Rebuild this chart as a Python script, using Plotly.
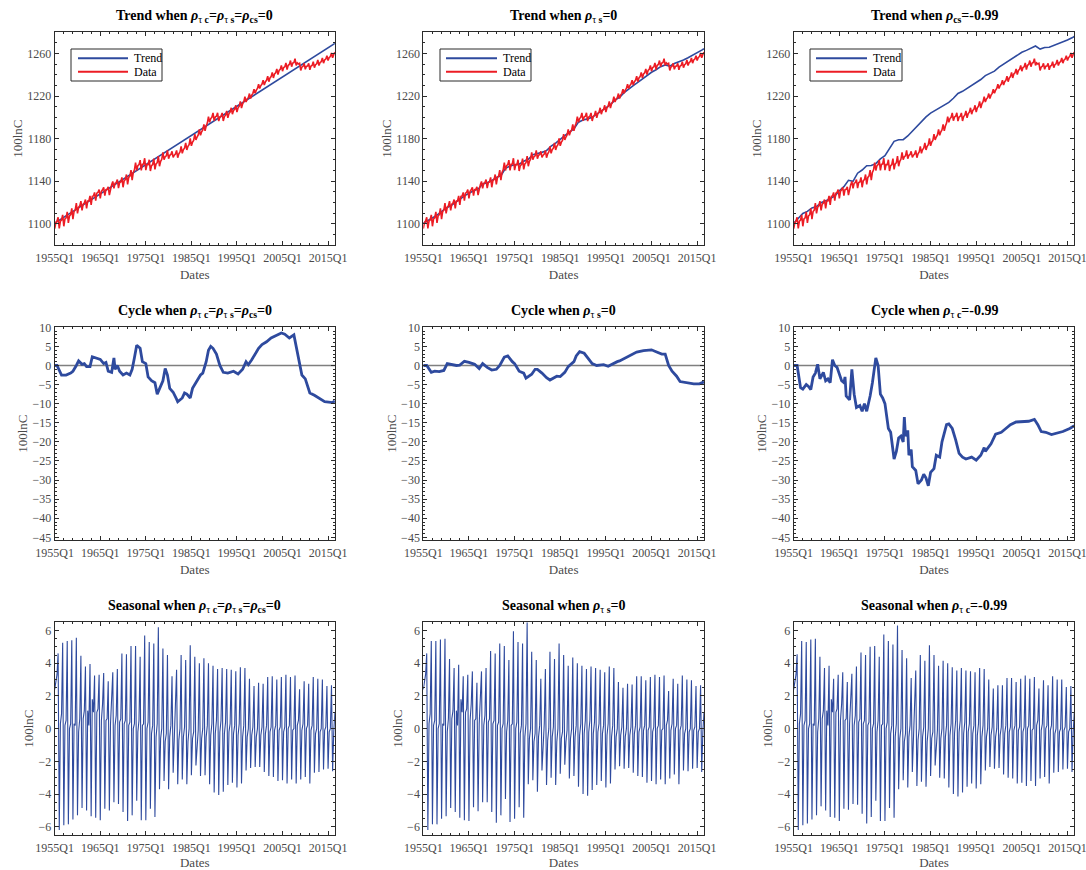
import plotly.graph_objects as go

# ---------------------------------------------------------------------------
# Quarterly sample 1955Q1 .. 2016Q3
# ---------------------------------------------------------------------------
START_YEAR = 1955
TICK_YEARS = [1955, 1965, 1975, 1985, 1995, 2005, 2015]
TICK_LABELS = ["1955Q1", "1965Q1", "1975Q1", "1985Q1", "1995Q1", "2005Q1", "2015Q1"]

# Observed series (100 ln C), one row per year, Q1..Q4
DATA_ROWS = [
    [1095.5, 1101.0, 1102.5, 1106.0], [1095.6, 1102.5, 1103.5, 1108.3],
    [1097.6, 1104.5, 1105.5, 1111.2], [1100.7, 1107.4, 1108.5, 1114.5],
    [1104.4, 1111.5, 1112.7, 1119.4], [1109.8, 1115.4, 1116.8, 1121.2],
    [1112.5, 1118.4, 1119.5, 1122.7], [1114.5, 1121.4, 1121.4, 1126.1],
    [1117.7, 1125.8, 1126.1, 1129.4], [1121.7, 1128.7, 1129.5, 1132.2],
    [1123.9, 1130.5, 1131.9, 1134.3], [1126.5, 1132.0, 1132.3, 1134.7],
    [1127.0, 1133.7, 1136.7, 1139.8], [1133.3, 1138.0, 1138.7, 1141.6],
    [1133.4, 1138.7, 1139.3, 1143.6], [1134.3, 1140.4, 1141.4, 1146.3],
    [1136.9, 1143.6, 1144.8, 1150.4], [1141.0, 1148.3, 1150.7, 1157.5],
    [1150.1, 1154.6, 1155.6, 1159.8], [1150.2, 1156.0, 1156.2, 1161.6],
    [1150.4, 1155.6, 1155.6, 1160.1], [1149.6, 1154.7, 1155.7, 1161.2],
    [1151.1, 1156.3, 1157.4, 1163.6], [1154.1, 1158.6, 1160.6, 1167.0],
    [1160.3, 1163.0, 1163.8, 1168.9], [1161.1, 1164.3, 1165.1, 1168.1],
    [1162.3, 1164.5, 1165.5, 1168.9], [1162.1, 1165.7, 1167.4, 1172.8],
    [1166.2, 1169.7, 1171.1, 1176.1], [1169.4, 1172.8, 1174.4, 1180.3],
    [1173.2, 1176.7, 1178.3, 1184.2], [1178.8, 1181.5, 1183.5, 1188.8],
    [1183.2, 1186.5, 1188.2, 1193.5], [1187.4, 1191.9, 1194.7, 1200.7],
    [1195.4, 1198.9, 1200.1, 1204.2], [1196.9, 1200.4, 1201.1, 1204.3],
    [1196.5, 1200.3, 1201.0, 1204.2], [1196.6, 1200.8, 1202.1, 1206.1],
    [1199.6, 1203.6, 1204.9, 1209.0], [1203.0, 1206.5, 1207.6, 1211.4],
    [1204.9, 1209.0, 1210.6, 1215.0], [1208.7, 1212.8, 1214.7, 1219.5],
    [1214.5, 1217.3, 1218.5, 1222.4], [1217.7, 1220.9, 1222.6, 1226.4],
    [1222.7, 1225.6, 1227.2, 1231.1], [1227.1, 1229.9, 1231.3, 1234.9],
    [1230.4, 1233.6, 1234.9, 1238.8], [1233.6, 1237.1, 1238.3, 1242.3],
    [1237.1, 1240.8, 1241.9, 1245.6], [1240.3, 1244.1, 1245.1, 1248.9],
    [1243.4, 1246.8, 1247.5, 1251.2], [1245.0, 1249.0, 1249.8, 1253.4],
    [1247.7, 1251.1, 1251.5, 1255.2], [1248.9, 1251.2, 1250.2, 1250.9],
    [1244.1, 1247.3, 1248.0, 1250.8], [1245.2, 1248.1, 1248.3, 1250.8],
    [1244.7, 1248.3, 1248.9, 1252.3], [1246.8, 1249.6, 1250.4, 1254.0],
    [1248.8, 1251.7, 1252.4, 1255.9], [1251.0, 1254.0, 1254.8, 1257.9],
    [1253.5, 1256.4, 1257.2, 1260.6], [1256.0, 1259.2, 1261.3],
]

# Trend estimates
TREND_A_YEARS = [1955, 1960, 1965, 1970, 1975, 1980, 1985, 1990, 1995, 2000, 2005, 2010, 2015, 2016.5]
TREND_A = [1100.5, 1114.3, 1128.0, 1141.8, 1155.5, 1169.3, 1183.0, 1196.8, 1210.5, 1224.3,
           1238.0, 1251.8, 1265.5, 1269.6]

TREND_YEARS = list(range(1955, 2017)) + [2016.5]
TREND_B = [1100.5, 1102.8, 1105.1, 1108.1, 1111.3, 1114.8, 1116.9, 1119.5, 1122.9, 1126.2,
           1128.8, 1131.0, 1132.5, 1137.4, 1138.6, 1140.6, 1143.6, 1145.1, 1152.1, 1154.3,
           1155.5, 1156.0, 1158.8, 1160.6, 1165.0, 1165.8, 1167.1, 1168.7, 1172.9, 1175.7,
           1178.9, 1182.9, 1186.2, 1189.1, 1195.5, 1197.5, 1198.6, 1200.0, 1203.0, 1206.2,
           1208.6, 1212.0, 1216.2, 1218.9, 1223.2, 1227.0, 1229.9, 1232.9, 1236.1, 1239.5,
           1242.4, 1244.8, 1247.7, 1249.3, 1248.2, 1250.7, 1252.0, 1254.0, 1256.1, 1258.3,
           1260.7, 1263.2, 1264.6]
TREND_C = [1100.5, 1104.8, 1109.7, 1111.6, 1114.9, 1116.1, 1119.8, 1121.5, 1124.0, 1126.0,
           1131.0, 1134.9, 1140.8, 1139.8, 1147.5, 1150.5, 1154.5, 1154.8, 1156.5, 1161.0,
           1164.0, 1170.5, 1177.5, 1179.0, 1179.0, 1182.5, 1187.0, 1192.0, 1196.0, 1200.5,
           1204.0, 1206.5, 1209.0, 1211.0, 1214.1, 1218.0, 1222.5, 1224.5, 1227.3, 1230.3,
           1233.3, 1235.6, 1239.3, 1241.1, 1243.5, 1247.2, 1250.0, 1252.5, 1255.2, 1258.3,
           1261.2, 1263.0, 1265.2, 1267.1, 1264.2, 1265.7, 1265.9, 1267.5, 1269.0, 1270.7,
           1272.7, 1274.8, 1276.1]

# Cycle estimates (date, value)
CYCLE_A_T = [1955.0, 1955.5, 1956.5, 1957.5, 1958.5, 1959.0, 1959.75, 1960.25, 1961.0, 1961.5,
             1962.0, 1962.75, 1963.25, 1964.25, 1965.0, 1965.75, 1966.25, 1966.75, 1967.5, 1968.0,
             1968.25, 1968.75, 1969.25, 1970.0, 1970.75, 1971.5, 1972.0, 1972.5, 1973.0, 1973.75,
             1974.25, 1975.0, 1975.5, 1976.25, 1977.0, 1977.5, 1978.0, 1978.5, 1978.75, 1979.25,
             1979.75, 1980.25, 1981.0, 1981.75, 1982.0, 1983.0, 1983.5, 1984.0, 1984.75, 1985.25,
             1986.0, 1987.0, 1987.5, 1988.25, 1988.75, 1989.25, 1989.75, 1990.5, 1991.25, 1992.0,
             1993.0, 1994.25, 1995.25, 1996.25, 1997.0, 1997.5, 1998.25, 1999.0, 1999.75, 2000.5,
             2001.5, 2002.5, 2003.75, 2004.75, 2005.5, 2006.5, 2007.5, 2008.0, 2008.75, 2009.25,
             2010.0, 2010.5, 2011.0, 2012.0, 2013.25, 2014.25, 2016.0, 2016.5]
CYCLE_A = [0.0, 0.0, -2.5, -2.5, -2.0, -1.5, 0.0, 1.2, 0.3, 0.5,
           -0.3, -0.3, 2.3, 1.8, 1.6, 0.5, 0.8, -1.5, -1.8, 2.0,
           -1.0, 0.0, -1.5, -2.5, -2.0, -2.5, -1.0, 2.0, 5.3, 4.5,
           1.0, 0.5, -3.0, -4.0, -4.5, -7.5, -6.0, -4.5, -4.0, -0.8,
           -2.5, -6.0, -7.0, -8.8, -9.5, -8.5, -7.2, -7.5, -8.5, -6.0,
           -4.5, -2.5, -2.0, 1.0, 4.0, 5.0, 4.5, 3.0, 0.0, -1.8,
           -2.0, -1.5, -2.2, -1.0, 1.0, 0.2, 1.5, 3.0, 4.5, 5.5,
           6.2, 7.2, 8.0, 8.5, 8.2, 7.2, 8.0, 5.0, 0.0, -2.5,
           -3.5, -5.5, -7.2, -7.8, -8.8, -9.5, -9.7, -9.3]

CYCLE_B_T = [1955.0, 1955.75, 1956.75, 1957.5, 1958.5, 1959.5, 1960.25, 1961.25, 1962.25, 1963.0,
             1964.0, 1965.0, 1966.25, 1967.25, 1968.0, 1969.0, 1970.0, 1971.0, 1971.75, 1972.75,
             1973.5, 1974.5, 1975.0, 1976.0, 1977.0, 1977.5, 1978.75, 1979.5, 1980.0, 1981.0,
             1982.0, 1982.75, 1983.5, 1984.25, 1985.0, 1986.0, 1986.75, 1988.0, 1988.5, 1989.25,
             1990.25, 1991.25, 1992.0, 1993.0, 1994.5, 1995.5, 1996.5, 1997.5, 1998.0, 1999.5,
             2000.75, 2001.75, 2003.25, 2005.0, 2006.0, 2007.25, 2008.0, 2008.75, 2009.5, 2010.5,
             2011.25, 2012.75, 2014.25, 2015.5, 2016.5]
CYCLE_B = [0.0, 0.0, -1.8, -1.5, -1.6, -1.3, 0.5, 0.3, 0.0, 0.1,
           1.1, 0.8, 0.3, -0.8, 0.5, -0.5, -1.2, -1.0, 0.0, 2.2,
           2.5, 1.0, 0.5, -1.5, -2.0, -3.3, -2.3, -1.0, -1.0, -2.0,
           -3.2, -3.8, -3.3, -2.8, -2.9, -1.8, -0.3, 1.0, 2.5, 3.6,
           3.2, 1.8, 0.5, 0.0, 0.2, -0.2, 0.5, 1.0, 1.2, 2.2,
           3.0, 3.5, 3.9, 4.1, 3.6, 3.0, 3.0, 0.0, -1.5, -2.8,
           -4.2, -4.6, -4.8, -4.8, -4.3]

CYCLE_C_T = [1955.0, 1955.75, 1956.5, 1957.0, 1957.75, 1958.25, 1958.75, 1959.25, 1959.75, 1960.25,
             1960.75, 1961.5, 1962.0, 1962.5, 1963.0, 1963.5, 1964.0, 1964.5, 1965.5, 1966.0,
             1966.25, 1966.5, 1967.25, 1967.75, 1968.25, 1968.75, 1969.5, 1970.0, 1970.5, 1971.0,
             1971.75, 1972.25, 1973.0, 1973.5, 1974.0, 1974.5, 1975.0, 1975.75, 1976.25, 1977.0,
             1977.5, 1978.0, 1978.5, 1979.0, 1979.25, 1979.5, 1980.0, 1980.25, 1980.75, 1981.0,
             1981.75, 1982.25, 1983.0, 1983.5, 1984.0, 1984.5, 1985.0, 1985.75, 1986.25, 1987.0,
             1987.5, 1988.5, 1989.0, 1989.75, 1990.5, 1991.25, 1992.0, 1992.75, 1994.0, 1995.0,
             1996.0, 1996.75, 1997.0, 1998.25, 1999.25, 2000.5, 2001.5, 2002.5, 2003.75, 2005.25,
             2006.5, 2007.75, 2008.5, 2009.25, 2010.25, 2011.5, 2012.5, 2014.0, 2015.5, 2016.5]
CYCLE_C = [0.0, 0.0, -5.8, -6.2, -5.0, -5.5, -6.3, -3.0, -2.0, 0.3,
           -3.5, -1.8, -4.0, -3.5, -4.5, 1.5, 0.0, -0.5, -4.0, -4.5,
           -3.0, -8.0, -9.0, -1.0, -7.5, -11.0, -10.5, -12.0, -10.0, -12.0,
           -8.0, -4.5, 2.0, 0.0, -7.5, -8.5, -10.0, -16.5, -17.5, -24.5,
           -22.5, -19.0, -18.5, -20.0, -13.5, -18.5, -17.0, -23.5, -22.0, -26.5,
           -27.5, -31.0, -30.0, -28.5, -29.5, -31.5, -28.0, -27.0, -23.5, -24.0,
           -20.0, -15.5, -15.3, -16.5, -19.5, -23.0, -24.0, -24.5, -24.0, -24.8,
           -23.5, -21.5, -22.5, -20.5, -18.0, -17.5, -16.5, -15.5, -14.8, -14.7,
           -14.6, -14.1, -15.5, -17.3, -17.5, -18.1, -17.8, -17.3, -16.5, -15.8]

# Seasonal estimates: Q1 (troughs, 1955..2016), Q4 (peaks, 1955..2015),
# Q2 and Q3 are common to all three specifications.
SEAS_Q2 = [3.0, 0.3, 0.2, 0.0, 0.3, -0.2, 0.6, 1.1, 1.8, 1.0, 0.5, 0.5, 0.3, 0.2, 0.4, 0.3,
           0.2, 0.0, -0.2, 0.2, 0.0, -0.3, -0.5, -0.6, -0.8, -0.5, -0.6, -0.7, -0.5, -0.8,
           -0.6, -0.8, -0.6, -0.5, -0.4, -0.3, -0.2, -0.3, -0.2, -0.3, -0.4, -0.5, -0.5,
           -0.4, -0.5, -0.4, -0.3, -0.2, -0.1, -0.1, -0.2, 0.0, -0.1, 0.2, -0.1, 0.0, -0.1,
           -0.3, -0.2, -0.1, -0.2, -0.2]
SEAS_Q3 = [3.3, 0.9, 0.5, 0.3, 0.2, 0.6, 1.1, 0.2, 1.0, 1.2, 1.5, 0.6, 1.8, 0.8, 0.6, 0.5,
           0.4, 0.3, 0.5, 0.3, 0.4, 0.2, 0.3, 0.0, -0.3, 0.2, 0.3, 0.0, 0.1, 0.0,
           -0.2, -0.1, 0.0, 0.2, 0.3, 0.5, 0.5, 0.4, 0.3, 0.2, 0.3, 0.2, 0.0,
           0.1, 0.0, 0.1, 0.2, 0.1, 0.2, 0.1, 0.1, 0.2, 0.0, 0.5, 0.3, 0.2, 0.2,
           0.0, 0.0, 0.1, 0.0, 1.0]

SEAS_A_Q1 = [2.4, -6.2, -5.9, -5.85, -5.55, -5.3, -4.85, -5.0, -5.35, -5.45, -5.6, -4.9, -5.0,
             -4.5, -4.6, -5.1, -5.65, -5.3, -4.4, -5.6, -5.6, -4.9, -5.4, -3.7, -3.2, -3.7,
             -2.7, -3.4, -3.1, -3.4, -2.85, -2.25, -2.9, -2.85, -3.4, -3.9, -4.05, -3.85,
             -3.45, -3.3, -3.6, -3.35, -2.55, -2.4, -2.35, -2.35, -2.65, -2.9, -2.95, -3.2,
             -3.15, -3.35, -3.1, -3.35, -3.1, -2.95, -3.35, -2.7, -2.65, -2.5, -2.45, -2.6]
SEAS_A_Q4 = [4.6, 5.25, 5.35, 5.4, 5.55, 4.45, 3.8, 3.95, 3.25, 3.3, 3.4, 2.9, 3.45, 3.65,
             4.6, 4.55, 5.05, 5.05, 4.4, 5.7, 5.3, 5.2, 6.2, 4.9, 4.5, 3.2, 3.6, 4.5, 4.2,
             5.1, 4.4, 4.0, 4.3, 4.0, 3.85, 3.65, 3.7, 3.65, 3.6, 3.5, 3.75, 3.7, 3.05, 2.6,
             2.8, 2.75, 3.15, 3.2, 3.0, 3.15, 3.3, 3.15, 3.25, 2.4, 2.9, 2.75, 3.15, 3.05,
             3.0, 2.6, 2.65]

SEAS_B_Q1 = [2.4, -6.2, -5.85, -5.85, -5.5, -5.35, -4.85, -5.1, -5.45, -5.6, -5.65, -4.8, -5.05,
             -4.5, -4.5, -5.1, -5.75, -5.3, -4.3, -5.7, -5.5, -4.8, -5.45, -3.4, -3.15, -3.85,
             -2.55, -3.45, -3.0, -3.45, -2.75, -2.2, -3.05, -2.9, -3.55, -4.0, -4.1, -3.75,
             -3.45, -3.2, -3.6, -3.35, -2.5, -2.3, -2.45, -2.4, -2.7, -2.9, -2.95, -3.3,
             -3.2, -3.4, -3.1, -3.4, -3.05, -2.8, -3.4, -2.55, -2.6, -2.45, -2.4, -2.65]
SEAS_B_Q4 = [4.6, 5.35, 5.35, 5.45, 5.5, 4.25, 3.7, 3.9, 3.2, 3.3, 3.5, 2.8, 3.5, 3.7,
             4.75, 4.6, 5.2, 5.05, 4.2, 5.95, 5.3, 5.2, 6.5, 4.7, 4.2, 3.05, 3.65, 4.7, 4.25,
             5.2, 4.5, 3.85, 4.35, 4.0, 3.85, 3.65, 3.8, 3.7, 3.6, 3.45, 3.8, 3.7, 2.85, 2.5,
             2.75, 2.7, 3.2, 3.2, 2.95, 3.15, 3.3, 3.15, 3.25, 2.3, 3.05, 2.75, 3.25, 3.0,
             2.95, 2.6, 2.65]

SEAS_C_Q1 = [2.4, -6.2, -5.9, -5.8, -5.55, -5.3, -4.75, -5.0, -5.4, -5.45, -5.65, -4.9, -4.95,
             -4.6, -4.65, -5.2, -5.8, -5.4, -4.4, -5.65, -5.65, -4.85, -5.45, -3.7, -3.15, -3.6,
             -2.65, -3.5, -3.25, -3.55, -2.9, -2.25, -3.0, -3.05, -3.6, -4.0, -4.15, -3.9,
             -3.55, -3.35, -3.65, -3.4, -2.55, -2.35, -2.45, -2.4, -2.8, -3.0, -3.05, -3.35,
             -3.3, -3.5, -3.2, -3.5, -3.05, -2.95, -3.35, -2.7, -2.65, -2.5, -2.45, -2.65]
SEAS_C_Q4 = [4.55, 5.35, 5.3, 5.45, 5.5, 4.4, 3.7, 3.85, 3.05, 3.3, 3.45, 2.85, 3.35, 3.8,
             4.65, 4.5, 5.0, 5.05, 4.4, 5.75, 5.35, 5.15, 6.3, 4.8, 4.3, 3.1, 3.55, 4.5, 4.15,
             5.1, 4.5, 3.85, 4.15, 4.0, 3.75, 3.55, 3.7, 3.55, 3.5, 3.45, 3.7, 3.65, 3.0, 2.45,
             2.65, 2.65, 3.1, 3.1, 2.85, 3.05, 3.25, 3.05, 3.15, 2.45, 2.95, 2.65, 3.2, 3.0,
             3.0, 2.55, 2.6]

SUB_TC = "<sub><span style='font-weight:normal'>τ</span> c</sub>"
SUB_TS = "<sub><span style='font-weight:normal'>τ</span> s</sub>"
SUB_CS = "<sub>cs</sub>"
ALL_ZERO = "<i>ρ</i>" + SUB_TC + "=<i>ρ</i>" + SUB_TS + "=<i>ρ</i>" + SUB_CS + "=0"
TITLES = [
    "Trend when " + ALL_ZERO,
    "Trend when <i>ρ</i>" + SUB_TS + "=0",
    "Trend when <i>ρ</i>" + SUB_CS + "=-0.99",
    "Cycle when " + ALL_ZERO,
    "Cycle when <i>ρ</i>" + SUB_TS + "=0",
    "Cycle when <i>ρ</i>" + SUB_TC + "=-0.99",
    "Seasonal when " + ALL_ZERO,
    "Seasonal when <i>ρ</i>" + SUB_TS + "=0",
    "Seasonal when <i>ρ</i>" + SUB_TC + "=-0.99",
]
LEGEND_LABELS = ["Trend", "Data"]

# ---------------------------------------------------------------------------
BLUE = "#2e4a9e"
RED = "#ec1c24"
FONT = "Liberation Serif"
AX_COLOR = "#2b2b2b"
TXT_GRAY = "#4a4a4a"

data = [v for row in DATA_ROWS for v in row]
quarters = [START_YEAR + i / 4 for i in range(len(data))]


def seasonal(q1, q4):
    out = []
    for k in range(len(q1)):
        out.append(q1[k])
        out.append(SEAS_Q2[k])
        out.append(SEAS_Q3[k])
        if k < len(q4):
            out.append(q4[k])
    return out


seas = [seasonal(SEAS_A_Q1, SEAS_A_Q4), seasonal(SEAS_B_Q1, SEAS_B_Q4),
        seasonal(SEAS_C_Q1, SEAS_C_Q4)]
trends = [(TREND_A_YEARS, TREND_A), (TREND_YEARS, TREND_B), (TREND_YEARS, TREND_C)]
cycles = [(CYCLE_A_T, CYCLE_A), (CYCLE_B_T, CYCLE_B), (CYCLE_C_T, CYCLE_C)]

W, H = 1086, 870
COL_PX = [(54.7, 334.9), (423.3, 704.0), (793.7, 1074.3)]
ROW_PX = [(32.3, 245.0), (327.3, 540.0), (622.3, 835.0)]
TITLE_Y = [16.0, 311.0, 606.0]
# legend box: left, right, top, bottom (px); key line start/end; text start
LEGEND_BOX = [(71, 162), (440, 531), (810, 902)]
LEGEND_TOP, LEGEND_BOTTOM = 49, 81
LEGEND_ROWS = [58.3, 71.7]
LEGEND_KEY = [(78, 128), (446, 497), (816, 867)]

Y_SPECS = [
    dict(range=[1080, 1280], tickvals=[1100, 1140, 1180, 1220, 1260], minor=10),
    dict(range=[-45.7, 10], tickvals=list(range(-45, 11, 5)), minor=1),
    dict(range=[-6.5, 6.5], tickvals=[-6, -4, -2, 0, 2, 4, 6], minor=0.5),
]


def px_x(v):
    return v / W


def px_y(v):
    return 1 - v / H


fig = go.Figure()
layout = dict(
    width=W, height=H, margin=dict(l=0, r=0, t=0, b=0, autoexpand=False),
    paper_bgcolor="white", plot_bgcolor="white", showlegend=False,
    font=dict(family=FONT, size=12, color=TXT_GRAY),
    annotations=[], shapes=[],
)

for r in range(3):
    for c in range(3):
        idx = r * 3 + c + 1
        sfx = "" if idx == 1 else str(idx)
        xa, ya = "x" + sfx, "y" + sfx
        x0, x1 = COL_PX[c]
        y0, y1 = ROW_PX[r]
        spec = Y_SPECS[r]
        layout["xaxis" + sfx] = dict(
            domain=[px_x(x0), px_x(x1)], anchor=ya, range=[1955, 2016.5],
            automargin=False, ticklabeloverflow="allow", ticklabelstandoff=2,
            tickmode="array", tickvals=TICK_YEARS, ticktext=TICK_LABELS,
            ticks="inside", ticklen=4, tickcolor=AX_COLOR, showline=True,
            linecolor=AX_COLOR, linewidth=1, mirror="ticks", showgrid=False,
            zeroline=False, tickfont=dict(size=12, color=TXT_GRAY),
            title=dict(text="Dates", font=dict(size=13, color=TXT_GRAY), standoff=5),
            minor=dict(ticks="inside", ticklen=2, tickcolor=AX_COLOR, tickmode="linear",
                       tick0=1955, dtick=2, showgrid=False),
        )
        layout["yaxis" + sfx] = dict(
            domain=[px_y(y1), px_y(y0)], anchor=xa, range=spec["range"],
            automargin=False, ticklabeloverflow="allow",
            tickmode="array", tickvals=spec["tickvals"],
            ticks="inside", ticklen=4, tickcolor=AX_COLOR, showline=True,
            linecolor=AX_COLOR, linewidth=1, mirror="ticks", showgrid=False,
            zeroline=False, tickfont=dict(size=12, color=TXT_GRAY),
            title=dict(text="100lnC", font=dict(size=13, color=TXT_GRAY), standoff=1),
            minor=dict(ticks="inside", ticklen=2, tickcolor=AX_COLOR, tickmode="linear",
                       tick0=0, dtick=spec["minor"], showgrid=False),
        )
        layout["annotations"].append(dict(
            text="<b>" + TITLES[idx - 1] + "</b>", xref="paper", yref="paper",
            x=px_x((x0 + x1) / 2), y=px_y(TITLE_Y[r]), xanchor="center", yanchor="middle",
            showarrow=False, font=dict(family=FONT, size=14, color="black"),
        ))

        if r == 0:
            tx, ty = trends[c]
            fig.add_trace(go.Scatter(x=tx, y=ty, mode="lines", name=LEGEND_LABELS[0],
                                     line=dict(color=BLUE, width=1.6),
                                     xaxis=xa, yaxis=ya))
            fig.add_trace(go.Scatter(x=quarters, y=data, mode="lines", name=LEGEND_LABELS[1],
                                     line=dict(color=RED, width=1.6),
                                     xaxis=xa, yaxis=ya))
            # legend box with line keys
            bl, br = LEGEND_BOX[c]
            layout["shapes"].append(dict(
                type="rect", xref="paper", yref="paper",
                x0=px_x(bl), x1=px_x(br), y0=px_y(LEGEND_BOTTOM), y1=px_y(LEGEND_TOP),
                fillcolor="white", line=dict(color=AX_COLOR, width=1), layer="above"))
            kl, kr = LEGEND_KEY[c]
            for k, color in enumerate([BLUE, RED]):
                ry = LEGEND_ROWS[k]
                layout["shapes"].append(dict(
                    type="line", xref="paper", yref="paper",
                    x0=px_x(kl), x1=px_x(kr), y0=px_y(ry), y1=px_y(ry),
                    line=dict(color=color, width=2), layer="above"))
                layout["annotations"].append(dict(
                    text=LEGEND_LABELS[k], xref="paper", yref="paper",
                    x=px_x(kr + 4), y=px_y(ry), xanchor="left", yanchor="middle",
                    showarrow=False, font=dict(family=FONT, size=12, color="black")))
        elif r == 1:
            layout["shapes"].append(dict(
                type="line", xref=xa + " domain", x0=0, x1=1, yref=ya, y0=0, y1=0,
                line=dict(color="#7f7f7f", width=1.6), layer="below"))
            cx, cy = cycles[c]
            fig.add_trace(go.Scatter(x=cx, y=cy, mode="lines",
                                     line=dict(color=BLUE, width=2.8),
                                     xaxis=xa, yaxis=ya))
        else:
            fig.add_trace(go.Scatter(x=quarters, y=seas[c], mode="lines",
                                     line=dict(color=BLUE, width=1.1),
                                     xaxis=xa, yaxis=ya))

fig.update_layout(**layout)
fig.write_html("out.html")
